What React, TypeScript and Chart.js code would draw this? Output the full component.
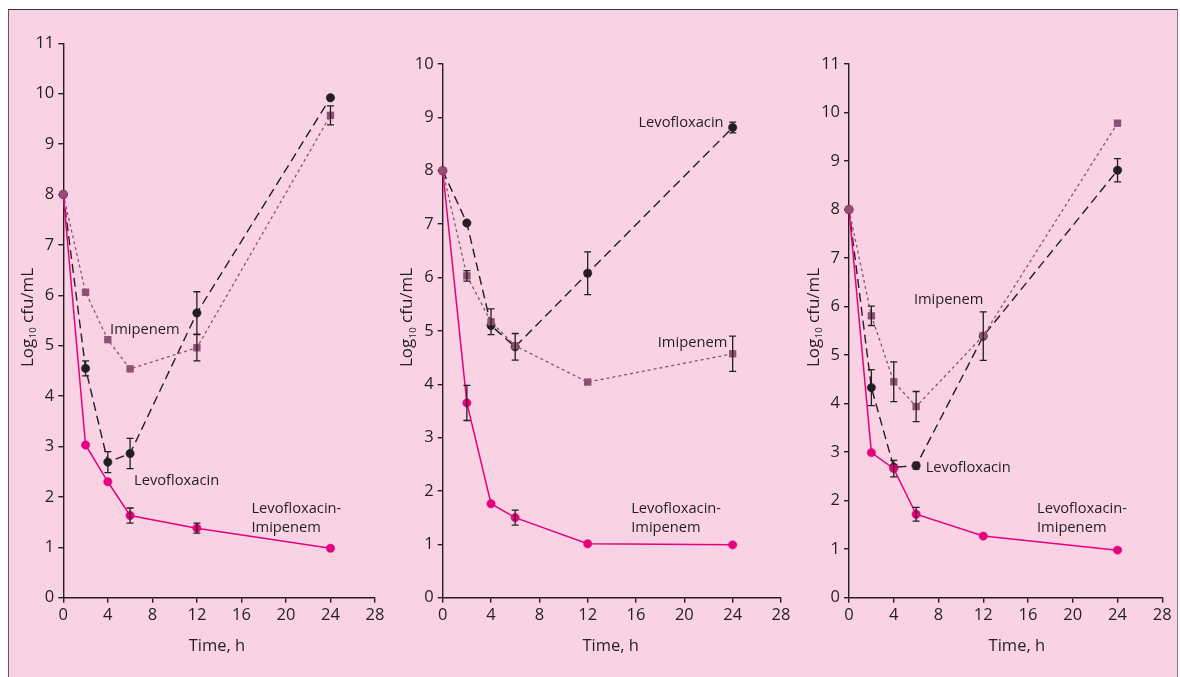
import React, { useEffect, useRef } from "react";
import { Chart, registerables } from "chart.js";

Chart.register(...registerables);

// ---------- data ----------
const times = [0, 2, 4, 6, 12, 24];

// Panel A
const aCombo = [8, 3.03, 2.3, 1.63, 1.38, 0.98];
const aComboErr = [0, 0, 0, 0.15, 0.1, 0];
const aLevo = [8, 4.55, 2.69, 2.86, 5.65, 9.92];
const aLevoErr = [0, 0.15, 0.21, 0.3, 0.42, 0];
const aImi = [8, 6.06, 5.12, 4.54, 4.96, 9.57];
const aImiErr = [0, 0, 0, 0, 0.26, 0.19];

// Panel B
const bCombo = [8, 3.65, 1.76, 1.5, 1.01, 0.99];
const bComboErr = [0, 0.33, 0, 0.14, 0, 0];
const bLevo = [8, 7.02, 5.1, 4.7, 6.08, 8.81];
const bLevoErr = [0, 0, 0, 0.25, 0.4, 0.1];
const bImi = [8, 6.03, 5.17, 4.72, 4.04, 4.57];
const bImiErr = [0, 0.1, 0.24, 0, 0, 0.33];

// Panel C
const cCombo = [8, 2.99, 2.66, 1.72, 1.27, 0.98];
const cComboErr = [0, 0, 0.17, 0.14, 0, 0];
const cLevo = [8, 4.33, 2.69, 2.72, 5.39, 8.81];
const cLevoErr = [0, 0.37, 0, 0.07, 0.5, 0.24];
const cImi = [8, 5.81, 4.45, 3.94, 5.4, 9.78];
const cImiErr = [0, 0.2, 0.41, 0.31, 0, 0];

const xMax = 28;
const xStep = 4;
const yMaxA = 11;
const yMaxB = 10;
const yMaxC = 11;

const xTitle = "Time, h";
const yTitleMain = "Log";
const yTitleSub = "10";
const yTitleRest = " cfu/mL";

// ---------- styles ----------
const PINK = "#E6007E";
const MAUVE = "#8C5272";
const INK = "#231F20";
const BG = "#F9D3E3";
const FONT = "'Open Sans', 'Noto Sans', sans-serif";

type Ann = { text: string; x: number; y: number; align: "left" | "right" };

type PanelCfg = {
  left: number;
  top: number;
  w: number;
  h: number;
  yAxisW: number;
  padTop: number;
  padRight: number;
  yMax: number;
  combo: number[];
  comboErr: number[];
  levo: number[];
  levoErr: number[];
  imi: number[];
  imiErr: number[];
  anns: Ann[];
  xTitleAt: number;
};

const panels: PanelCfg[] = [
  {
    left: 10, top: 10, w: 378, h: 667, yAxisW: 53.3, padTop: 33.3, padRight: 13,
    yMax: yMaxA,
    combo: aCombo, comboErr: aComboErr, levo: aLevo, levoErr: aLevoErr, imi: aImi, imiErr: aImiErr,
    anns: [
      { text: "Imipenem", x: 4.2, y: 5.31, align: "left" },
      { text: "Levofloxacin", x: 6.35, y: 2.32, align: "left" },
      { text: "Levofloxacin-", x: 16.9, y: 1.76, align: "left" },
      { text: "Imipenem", x: 16.9, y: 1.38, align: "left" },
    ],
    xTitleAt: 13.8,
  },
  {
    left: 390, top: 10, w: 410, h: 667, yAxisW: 52.7, padTop: 54, padRight: 19,
    yMax: yMaxB,
    combo: bCombo, comboErr: bComboErr, levo: bLevo, levoErr: bLevoErr, imi: bImi, imiErr: bImiErr,
    anns: [
      { text: "Levofloxacin", x: 16.2, y: 8.89, align: "left" },
      { text: "Imipenem", x: 23.55, y: 4.77, align: "right" },
      { text: "Levofloxacin-", x: 15.6, y: 1.66, align: "left" },
      { text: "Imipenem", x: 15.6, y: 1.31, align: "left" },
    ],
    xTitleAt: 13.9,
  },
  {
    left: 795, top: 10, w: 383, h: 667, yAxisW: 54, padTop: 54, padRight: 15.7,
    yMax: yMaxC,
    combo: cCombo, comboErr: cComboErr, levo: cLevo, levoErr: cLevoErr, imi: cImi, imiErr: cImiErr,
    anns: [
      { text: "Imipenem", x: 5.8, y: 6.13, align: "left" },
      { text: "Levofloxacin", x: 6.85, y: 2.68, align: "left" },
      { text: "Levofloxacin-", x: 16.8, y: 1.83, align: "left" },
      { text: "Imipenem", x: 16.8, y: 1.44, align: "left" },
    ],
    xTitleAt: 15.0,
  },
];

const decorPlugin = {
  id: "decor",
  afterDatasetsDraw(chart: any, _args: any, opts: any) {
    const ctx = chart.ctx;
    const xs = chart.scales.x;
    const ys = chart.scales.y;
    const area = chart.chartArea;
    ctx.save();
    // error bars
    ctx.strokeStyle = INK;
    ctx.lineWidth = 1.3;
    ctx.setLineDash([]);
    chart.data.datasets.forEach((ds: any) => {
      const errs: number[] = ds.errors || [];
      ds.data.forEach((pt: any, i: number) => {
        const e = errs[i];
        if (!e) return;
        const px = xs.getPixelForValue(pt.x);
        const y1 = ys.getPixelForValue(pt.y + e);
        const y2 = ys.getPixelForValue(pt.y - e);
        ctx.beginPath();
        ctx.moveTo(px, y1);
        ctx.lineTo(px, y2);
        ctx.moveTo(px - 3.5, y1);
        ctx.lineTo(px + 3.5, y1);
        ctx.moveTo(px - 3.5, y2);
        ctx.lineTo(px + 3.5, y2);
        ctx.stroke();
      });
    });
    // annotations
    ctx.fillStyle = INK;
    ctx.font = `14.7px ${FONT}`;
    ctx.textBaseline = "middle";
    (opts.anns || []).forEach((a: Ann) => {
      ctx.textAlign = a.align;
      ctx.fillText(a.text, xs.getPixelForValue(a.x), ys.getPixelForValue(a.y));
    });
    // x title
    ctx.font = `16.5px ${FONT}`;
    ctx.textAlign = "center";
    ctx.fillText(xTitle, xs.getPixelForValue(opts.xTitleAt), area.bottom + 48.5);
    // y title with subscript
    ctx.translate(area.left - 36.5, area.bottom - 280);
    ctx.rotate(-Math.PI / 2);
    ctx.textAlign = "left";
    ctx.textBaseline = "alphabetic";
    const big = `17px ${FONT}`;
    const small = `9.5px ${FONT}`;
    ctx.font = big;
    const w1 = ctx.measureText(yTitleMain).width;
    const w3 = ctx.measureText(yTitleRest).width;
    ctx.font = small;
    const w2 = ctx.measureText(yTitleSub).width;
    let cx = -(w1 + w2 + w3) / 2;
    const base = 6;
    ctx.font = big;
    ctx.fillText(yTitleMain, cx, base);
    cx += w1;
    ctx.font = small;
    ctx.fillText(yTitleSub, cx + 0.5, base + 3.5);
    cx += w2 + 0.5;
    ctx.font = big;
    ctx.fillText(yTitleRest, cx, base);
    ctx.restore();
  },
};

function Panel({ cfg }: { cfg: PanelCfg }) {
  const ref = useRef<HTMLCanvasElement>(null);
  useEffect(() => {
    const pts = (vals: number[]) => vals.map((v, i) => ({ x: times[i], y: v }));
    const chart = new Chart(ref.current as HTMLCanvasElement, {
      type: "line",
      data: {
        datasets: [
          {
            label: "Imipenem",
            data: pts(cfg.imi),
            errors: cfg.imiErr,
            borderColor: MAUVE,
            backgroundColor: MAUVE,
            borderWidth: 1.3,
            borderDash: [3, 3],
            pointStyle: "rect",
            pointRadius: 5.2,
            pointBorderWidth: 0,
            tension: 0,
            clip: false,
          } as any,
          {
            label: "Levofloxacin-Imipenem",
            data: pts(cfg.combo),
            errors: cfg.comboErr,
            borderColor: PINK,
            backgroundColor: PINK,
            borderWidth: 1.5,
            pointStyle: "circle",
            pointRadius: 4.2,
            pointBorderWidth: 0.5,
            tension: 0,
            clip: false,
          } as any,
          {
            label: "Levofloxacin",
            data: pts(cfg.levo),
            errors: cfg.levoErr,
            borderColor: INK,
            backgroundColor: INK,
            borderWidth: 1.4,
            borderDash: [9, 5],
            pointStyle: "circle",
            pointRadius: 4.2,
            pointBorderWidth: 0.5,
            tension: 0,
            clip: false,
          } as any,
        ],
      },
      options: {
        responsive: false,
        animation: false,
        events: [],
        layout: {
          autoPadding: false,
          padding: { left: 0, top: cfg.padTop, right: cfg.padRight, bottom: 49.3 },
        },
        plugins: {
          legend: { display: false },
          tooltip: { enabled: false },
          decor: { anns: cfg.anns, xTitleAt: cfg.xTitleAt },
        } as any,
        scales: {
          x: {
            type: "linear",
            min: 0,
            max: xMax,
            ticks: {
              stepSize: xStep,
              color: INK,
              font: { family: FONT, size: 16.5 },
              padding: 3,
              maxRotation: 0,
            },
            grid: {
              drawOnChartArea: false,
              tickLength: 5,
              color: INK,
              lineWidth: 1.4,
            },
            border: { color: INK, width: 1.4 },
            afterFit: (s: any) => {
              s.height = 30;
            },
          },
          y: {
            type: "linear",
            min: 0,
            max: cfg.yMax,
            ticks: {
              stepSize: 1,
              color: INK,
              font: { family: FONT, size: 16.5 },
              padding: 4,
            },
            grid: {
              drawOnChartArea: false,
              tickLength: 5,
              color: INK,
              lineWidth: 1.4,
            },
            border: { color: INK, width: 1.4 },
            afterFit: (s: any) => {
              s.width = cfg.yAxisW;
            },
          },
        },
      },
      plugins: [decorPlugin],
    } as any);
    return () => chart.destroy();
  }, [cfg]);
  return (
    <canvas
      ref={ref}
      width={cfg.w}
      height={cfg.h}
      style={{ position: "absolute", left: cfg.left, top: cfg.top, width: cfg.w, height: cfg.h }}
    />
  );
}

export default function App() {
  return (
    <div style={{ position: "absolute", left: 0, top: 0, width: 1180, height: 677, overflow: "hidden", background: "#fff" }}>
      <div
        style={{
          position: "absolute",
          left: 8,
          top: 9,
          width: 1170,
          height: 700,
          background: BG,
          borderTop: "1.5px solid #3a3035",
          borderLeft: "1.5px solid #6a5660",
          borderRight: "1.5px solid #8f7684",
          boxSizing: "border-box",
        }}
      />
      {panels.map((p, i) => (
        <Panel key={i} cfg={p} />
      ))}
    </div>
  );
}
